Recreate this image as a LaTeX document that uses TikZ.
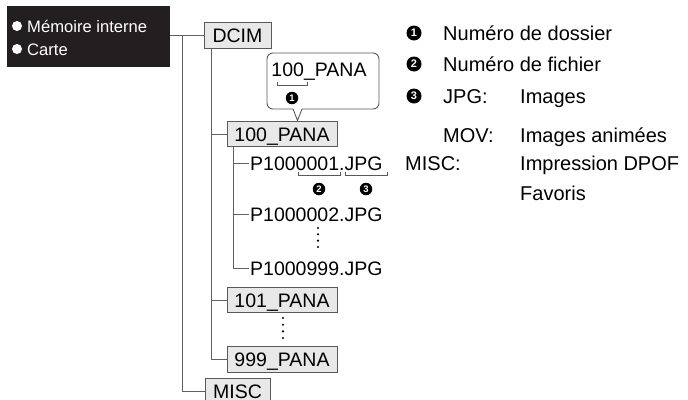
\documentclass[tikz,border=0pt]{standalone}
\usepackage{fontspec}
\setmainfont{Liberation Sans}
\newcommand\treefont{\fontsize{19.5}{22}\selectfont}
\newcommand\legfont{\fontsize{20}{23}\selectfont}
\newcommand\boxfont{\fontsize{16.6}{19}\selectfont}
\definecolor{boxblack}{HTML}{231F20}
\begin{document}
\begin{tikzpicture}[x=1pt,y=-1pt,
  conn/.style={draw=black!62,line width=1pt},
  folder/.style={draw=black!65,fill=black!9,line width=0.9pt,inner sep=0pt,minimum height=25.5pt,text height=14pt,text depth=0pt,font=\treefont},
  file/.style={anchor=base west,inner sep=1.5pt,font=\treefont},
  num/.style={circle,fill=black,text=white,inner sep=0pt,minimum size=15pt,font=\bfseries\fontsize{11}{11}\selectfont},
  smallnum/.style={num,minimum size=12.5pt,font=\bfseries\fontsize{9.5}{9.5}\selectfont},
  legend/.style={anchor=base west,inner sep=0pt,font=\legfont},
  brack/.style={draw=black!65,line width=0.8pt},
  dot/.style={fill=black,circle,inner sep=0pt,minimum size=2.4pt}
]
\useasboundingbox (0,0) rectangle (688,399);
\clip (0,0) rectangle (688,399);

% storage box
\node[fill=boxblack,minimum width=163pt,minimum height=61pt,inner sep=0pt] (mem) at (88.5,36.5) {};
\node[circle,fill=white,minimum size=10pt,inner sep=0pt] (b1) at (17,26) {};
\node[circle,fill=white,minimum size=10pt,inner sep=0pt] (b2) at (17,49) {};
\node[anchor=base west,inner sep=0pt,text=white,font=\boxfont] (memt) at (27,32) {Mémoire interne};
\node[anchor=base west,inner sep=0pt,text=white,font=\boxfont] (cart) at (27,55) {Carte};

% folders
\node[folder,minimum width=67pt] (dcim) at (237.5,35.5) {DCIM};
\node[folder,minimum width=110pt] (p100) at (282,134) {100\_PANA};
\node[file] (f1) at (248.5,170) {P1000001.JPG};
\node[file] (f2) at (248.5,221) {P1000002.JPG};
\node[file] (f3) at (248.5,275) {P1000999.JPG};
\node[folder,minimum width=110pt] (p101) at (282,300) {101\_PANA};
\node[folder,minimum width=110pt] (p999) at (282,359.5) {999\_PANA};
\node[folder,minimum width=65pt] (misc) at (237.5,391.5) {MISC};

% connectors
\draw[conn] (mem.east |- dcim.west) -- (dcim.west);
\coordinate (t1) at (182,35.5);
\draw[conn] (t1) |- (misc.west);
\coordinate (t2) at ([xshift=8pt]dcim.south west);
\draw[conn] (t2) |- (p999.west);
\draw[conn] (t2 |- p100.west) -- (p100.west);
\draw[conn] (t2 |- p101.west) -- (p101.west);
\coordinate (t3) at ([xshift=7pt]p100.south west);
\draw[conn] (t3) |- (f3.west);
\draw[conn] (t3 |- f1.west) -- (f1.west);
\draw[conn] (t3 |- f2.west) -- (f2.west);

% callout
\draw[brack,line width=0.9pt,rounded corners=6pt] (293,109) -- (267,109) -- (267,53) -- (379,53) -- (379,109) -- (302,109);
\draw[brack,line width=0.9pt] (302,109) -- (297.5,120.5) -- (293,109);
\node[inner sep=0pt,text height=14pt,text depth=0pt,font=\treefont] (cl) at (319,69) {100\_PANA};
\draw[brack] (277,82) -- (277,85.5) -- (307,85.5) -- (307,82);
\node[smallnum] (c1) at (292,98) {1};

% brackets on file name
\draw[brack] (298,172) -- (298,175.5) -- (340,175.5) -- (340,172);
\draw[brack] (345,172) -- (345,175.5) -- (387,175.5) -- (387,172);
\node[smallnum] (c2) at (319,189) {2};
\node[smallnum] (c3) at (366,189) {3};

% vertical dots
\foreach \yy in {228,234.3,240.6,247} \node[dot] at (318,\yy) {};
\foreach \yy in {318,324.7,331.3,338} \node[dot] at (283,\yy) {};

% legend
\node[num] (n1) at (414,33) {1};
\node[legend] (l1) at (443,40) {Numéro de dossier};
\node[num] (n2) at (414,64) {2};
\node[legend] (l2) at (443,71) {Numéro de fichier};
\node[num] (n3) at (414,96) {3};
\node[legend] (l3a) at (443,103) {JPG:};
\node[legend] (l3b) at (520,103) {Images};
\node[legend] (l4a) at (443,142) {MOV:};
\node[legend] (l4b) at (520,142) {Images animées};
\node[legend] (l5a) at (405,170) {MISC:};
\node[legend] (l5b) at (520,170) {Impression DPOF};
\node[legend] (l6) at (520,200) {Favoris};
\end{tikzpicture}
\end{document}
